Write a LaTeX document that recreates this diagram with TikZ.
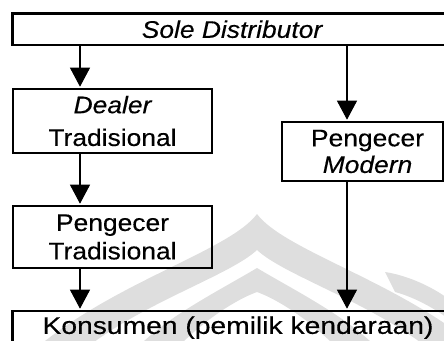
\documentclass[tikz,border=0pt]{standalone}
\usepackage{fontspec}
\setmainfont[FakeStretch=1.1,FakeBold=0.3]{Liberation Sans}
\usetikzlibrary{arrows.meta}
\begin{document}
\begin{tikzpicture}[x=1pt,y=-1pt,
  box/.style={draw, line width=2.6pt, inner sep=0pt, align=center},
  txt/.style={font=\fontsize{24}{#1}\selectfont},
  flow/.style={line width=1.1pt, -{Triangle[width=20pt,length=19pt]}, shorten >=1pt}
]
\useasboundingbox (0,0) rectangle (444,340);
\clip (0,0) rectangle (444,340);

% faint emblem in the background
\fill[black!13] (257,214) .. controls (230,250) and (120,280) .. (40,345)
  -- (90,345) .. controls (150,300) and (230,275) .. (257,250)
  .. controls (284,275) and (364,300) .. (424,345)
  -- (474,345) .. controls (394,280) and (284,250) .. (257,214) -- cycle;
\fill[black!13] (257,268) .. controls (220,290) and (170,315) .. (140,345)
  -- (180,345) .. controls (205,320) and (235,300) .. (257,292)
  .. controls (279,300) and (309,320) .. (334,345)
  -- (374,345) .. controls (344,315) and (294,290) .. (257,268) -- cycle;
\fill[black!13] (385,272) .. controls (405,275) and (430,285) .. (450,300)
  -- (450,320) .. controls (430,305) and (410,296) .. (395,292) -- cycle;

% distribution levels
\node[box, txt=26, minimum width=439pt, minimum height=31.5pt] (sd) at (232,29.25) {\itshape Sole Distributor};
\node[box, txt=32.7, minimum width=199pt, minimum height=64pt] (dt) at (112.5,121) {\itshape Dealer\\Tradisional};
\node[box, txt=28.4, minimum width=199pt, minimum height=62pt] (pt) at (112.5,237) {Pengecer\\Tradisional};
\node[box, txt=26.6, minimum width=161pt, minimum height=59pt] (pm) at (362.5,151.5) {\hspace*{10pt}Pengecer\\\hspace*{10pt}\itshape Modern};
\node[box, txt=26, minimum width=451pt, minimum height=33.3pt] (ks) at (238,327.65) {\scalebox{1.07}[1]{Konsumen (pemilik kendaraan)}};

% columns of the two channels
\coordinate (cl) at (80,0);
\coordinate (cr) at (347,0);

\draw[flow] (sd.south -| cl) -- (dt.north -| cl);
\draw[flow] (dt.south -| cl) -- (pt.north -| cl);
\draw[flow] (pt.south -| cl) -- (ks.north -| cl);
\draw[flow] (sd.south -| cr) -- (pm.north -| cr);
\draw[flow] (pm.south -| cr) -- (ks.north -| cr);
\end{tikzpicture}
\end{document}
